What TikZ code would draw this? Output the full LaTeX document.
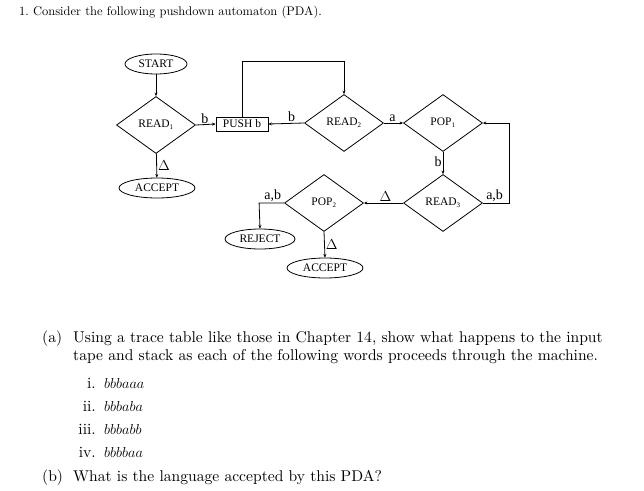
\documentclass[tikz,border=0pt]{standalone}
\usepackage{amsmath,amssymb}
\usepackage{fontspec}
\newfontfamily\chartfont{Liberation Serif}
\newfontfamily\bodyfont{lmroman10-regular.otf}
\usetikzlibrary{shapes.geometric,arrows.meta}

\newcommand{\idx}[1]{\textsubscript{\fontsize{7}{7}\selectfont #1}}

\begin{document}
\begin{tikzpicture}[x=1pt,y=-1pt,
    chart/.style={font=\chartfont\fontsize{11.5}{13}\selectfont},
    state/.style={chart, draw, line width=0.8pt, ellipse, minimum height=20pt, inner sep=0pt},
    test/.style={chart, draw, line width=0.8pt, diamond, minimum width=79pt, minimum height=57pt, inner sep=0pt},
    box/.style={chart, draw, line width=0.8pt, minimum width=52pt, minimum height=14pt, inner sep=0pt},
    lbl/.style={font=\chartfont\fontsize{14}{15}\selectfont, inner sep=1pt},
    arr/.style={line width=0.8pt, -{Stealth[length=3.5pt,width=3pt]}},
    txt/.style={font=\bodyfont\fontsize{15.6}{19}\selectfont, inner sep=0pt}]

    \useasboundingbox (0,0) rectangle (644,490);

    % Question heading
    \node[txt, font=\bodyfont\fontsize{12.5}{15}\selectfont, anchor=base west] (head) at (19,15) {1.\ Consider the following pushdown automaton (PDA).};

    % Left column
    \node[state, minimum width=62pt] (start) at (156,64) {START};
    \node[test] (read1) at (156,125) {READ\idx{1}};
    \node[state, minimum width=76pt] (acc1) at (157,188) {ACCEPT};

    % Top row
    \node[box] (push) at (242,124) {PUSH b};
    \node[test] (read2) at (344,123) {READ\idx{2}};
    \node[test] (pop1) at (443,123) {POP\idx{1}};

    % Bottom row
    \node[test] (read3) at (443,203) {READ\idx{3}};
    \node[test] (pop2) at (324,203) {POP\idx{2}};
    \node[state, minimum width=70pt] (reject) at (260,239) {REJECT};
    \node[state, minimum width=76pt] (acc2) at (325,268) {ACCEPT};

    % Connectors
    \draw[arr] (start) -- (read1);
    \draw[arr] (read1) -- node[lbl, right] {$\Delta$} (acc1);
    \draw[arr] (read1.east) -- node[lbl, above, pos=0.45] {b} (push.west);
    \draw[arr] (push.north) -- ++(0,-55) -| (read2.north);
    \draw[arr] (read2.west) -- node[lbl, above, pos=0.35] {b} (push.east);
    \draw[arr] (read2.east) -- node[lbl, above, pos=0.45] {a} (pop1.west);
    \draw[arr] (pop1.south) -- node[lbl, left, pos=0.45] {b} (read3.north);
    \draw[arr] (read3.east) -- node[lbl, above, pos=0.45] {a,b} ++(26,0) |- (pop1.east);
    \draw[arr] (read3.west) -- node[lbl, above, pos=0.45] {$\Delta$} (pop2.east);
    \draw[arr] (pop2.west) -- node[lbl, above, pos=0.45] {a,b} ++(-25,0) -- (reject.north);
    \draw[arr] (pop2.south) -- node[lbl, right, pos=0.5] {$\Delta$} (acc2.north);

    % Part (a)
    \node[txt, anchor=base west] (pa) at (42,342) {(a)};
    \node[txt, anchor=base west] (pa1) at (73,342) {Using a trace table like those in Chapter 14, show what happens to the input};
    \node[txt, anchor=base west] (pa2) at (73,360) {tape and stack as each of the following words proceeds through the machine.};

    % Words
    \node[txt, anchor=base east] (n1) at (96,388) {i.};
    \node[txt, anchor=base west] (w1) at (104,388) {$bbbaaa$};
    \node[txt, anchor=base east] (n2) at (96,411) {ii.};
    \node[txt, anchor=base west] (w2) at (104,411) {$bbbaba$};
    \node[txt, anchor=base east] (n3) at (96,434) {iii.};
    \node[txt, anchor=base west] (w3) at (104,434) {$bbbabb$};
    \node[txt, anchor=base east] (n4) at (96,457) {iv.};
    \node[txt, anchor=base west] (w4) at (104,457) {$bbbbaa$};

    % Part (b)
    \node[txt, anchor=base west] (pb) at (42,481) {(b)};
    \node[txt, anchor=base west] (pb1) at (73,481) {What is the language accepted by this PDA?};
\end{tikzpicture}
\end{document}
